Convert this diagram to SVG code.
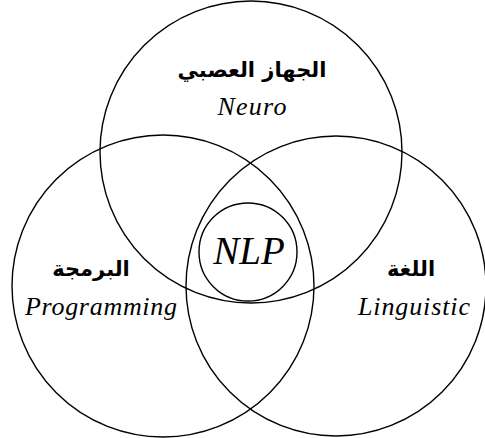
<svg xmlns="http://www.w3.org/2000/svg" width="485" height="438" viewBox="0 0 485 438">
  <style>
    .ring { fill: none; stroke: #000; stroke-width: 1.4; }
    .ar { font-family: "DejaVu Sans", sans-serif; font-weight: bold; font-size: 21px; text-anchor: middle; fill: #000; }
    .en { font-family: "Liberation Serif", serif; font-style: italic; font-size: 26px; text-anchor: middle; fill: #000; }
    .big { font-size: 39px; }
  </style>
  <rect width="485" height="438" fill="#fff"/>
  <g id="neuro">
    <circle class="ring" cx="251" cy="152" r="151"/>
    <text class="ar" x="252" y="77" direction="rtl">الجهاز العصبي</text>
    <text class="en" x="252" y="115" textLength="69" lengthAdjust="spacing">Neuro</text>
  </g>
  <g id="programming">
    <circle class="ring" cx="163" cy="286" r="151"/>
    <text class="ar" x="91" y="276" direction="rtl">البرمجة</text>
    <text class="en" x="101" y="315" textLength="152" lengthAdjust="spacing">Programming</text>
  </g>
  <g id="linguistic">
    <circle class="ring" cx="336" cy="286" r="150"/>
    <text class="ar" x="411" y="276" direction="rtl">اللغة</text>
    <text class="en" x="414" y="315" textLength="112" lengthAdjust="spacing">Linguistic</text>
  </g>
  <g id="nlp">
    <circle class="ring" cx="248" cy="252" r="49"/>
    <text class="en big" x="249" y="264">NLP</text>
  </g>
</svg>
